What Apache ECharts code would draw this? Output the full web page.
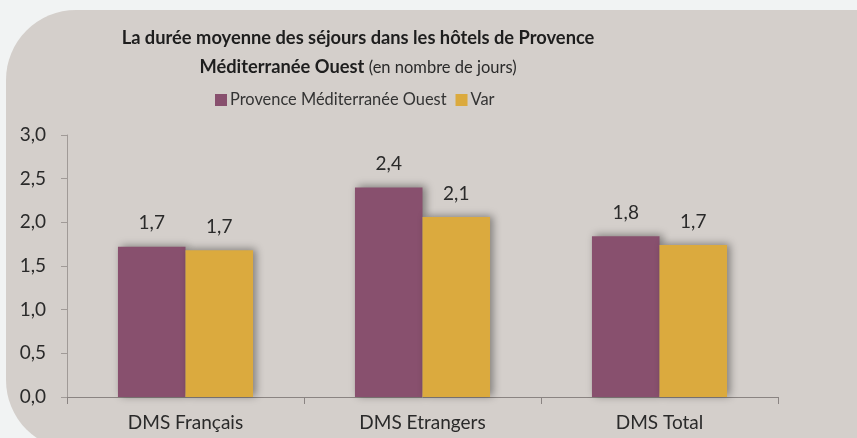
<!DOCTYPE html>
<html>
<head>
<meta charset="utf-8">
<script src="https://cdn.jsdelivr.net/npm/echarts@6/dist/echarts.min.js"></script>
<style>
  html, body { margin: 0; padding: 0; background: #f1f3f3; }
  #wrap { position: relative; width: 857px; height: 438px; overflow: hidden; }
  #panel {
    position: absolute; left: 6px; top: 10px; width: 851px; height: 440px;
    background: #d4cfcb; border-radius: 70px 0 0 70px;
  }
  #chart { position: absolute; left: 0; top: 0; width: 857px; height: 438px; }
</style>
</head>
<body>
<div id="wrap">
  <div id="panel"></div>
  <div id="chart"></div>
</div>
<script>
  // data
  const categories = ["DMS Français", "DMS Etrangers", "DMS Total"]
  const seriesNames = ["Provence Méditerranée Ouest", "Var"]
  const pmoValues = [1.72, 2.40, 1.84]
  const varValues = [1.68, 2.06, 1.74]
  const colors = ["#88506e", "#dbaa3e"]

  const FONT = "Lato"
  const fmt = (v) => v.toFixed(1).replace(".", ",")

  const chart = echarts.init(document.getElementById("chart"))

  const barStyle = (color) => ({
    color: color,
    shadowColor: "rgba(0,0,0,0.4)",
    shadowBlur: 8,
    shadowOffsetX: 3,
    shadowOffsetY: -1,
  })

  const labelStyle = {
    show: true, position: "top", distance: 14,
    fontFamily: FONT, fontSize: 19, color: "#2a2a2a",
    formatter: (p) => fmt(p.value),
  }

  const option = {
    animation: false,
    textStyle: { fontFamily: FONT },
    title: {
      text: "La durée moyenne des séjours dans les hôtels de Provence\n{b|Méditerranée Ouest} {n|(en nombre de jours)}",
      left: 353,
      top: 19,
      textAlign: "center",
      textStyle: {
        fontFamily: FONT,
        fontSize: 18.3,
        fontWeight: "bold",
        color: "#1e1e1e",
        lineHeight: 29,
        rich: {
          b: { fontFamily: FONT, fontSize: 18.3, fontWeight: "bold", color: "#1e1e1e", lineHeight: 29 },
          n: { fontFamily: FONT, fontSize: 16.5, fontWeight: "normal", color: "#2a2a2a", lineHeight: 29 },
        },
      },
    },
    legend: {
      data: seriesNames,
      left: 210,
      top: 87,
      itemWidth: 12,
      itemHeight: 12,
      itemGap: 9,
      icon: "rect",
      textStyle: { fontFamily: FONT, fontSize: 16.4, color: "#333", padding: [0, 0, 0, -2] },
    },
    grid: { left: 67, right: 79, top: 135, bottom: 41, containLabel: false },
    xAxis: {
      type: "category",
      data: categories,
      axisLine: { lineStyle: { color: "#8a8482", width: 1 } },
      axisTick: { show: true, length: 7, lineStyle: { color: "#8a8482" } },
      axisLabel: { fontFamily: FONT, fontSize: 19, color: "#2a2a2a", margin: 16 },
    },
    yAxis: {
      type: "value",
      min: 0,
      max: 3,
      interval: 0.5,
      axisLine: { show: true, lineStyle: { color: "#a09a97", width: 1 } },
      axisTick: { show: true, length: 6, lineStyle: { color: "#a09a97" } },
      splitLine: { show: false },
      axisLabel: {
        fontFamily: FONT, fontSize: 19, color: "#2a2a2a", margin: 21,
        formatter: (v) => fmt(v),
      },
    },
    series: [
      {
        name: seriesNames[0],
        type: "bar",
        data: pmoValues,
        barGap: "0%",
        barCategoryGap: "43%",
        itemStyle: barStyle(colors[0]),
        label: labelStyle,
      },
      {
        name: seriesNames[1],
        type: "bar",
        data: varValues,
        barGap: "0%",
        barCategoryGap: "43%",
        itemStyle: barStyle(colors[1]),
        label: labelStyle,
      },
    ],
  }

  chart.setOption(option)
</script>
</body>
</html>
